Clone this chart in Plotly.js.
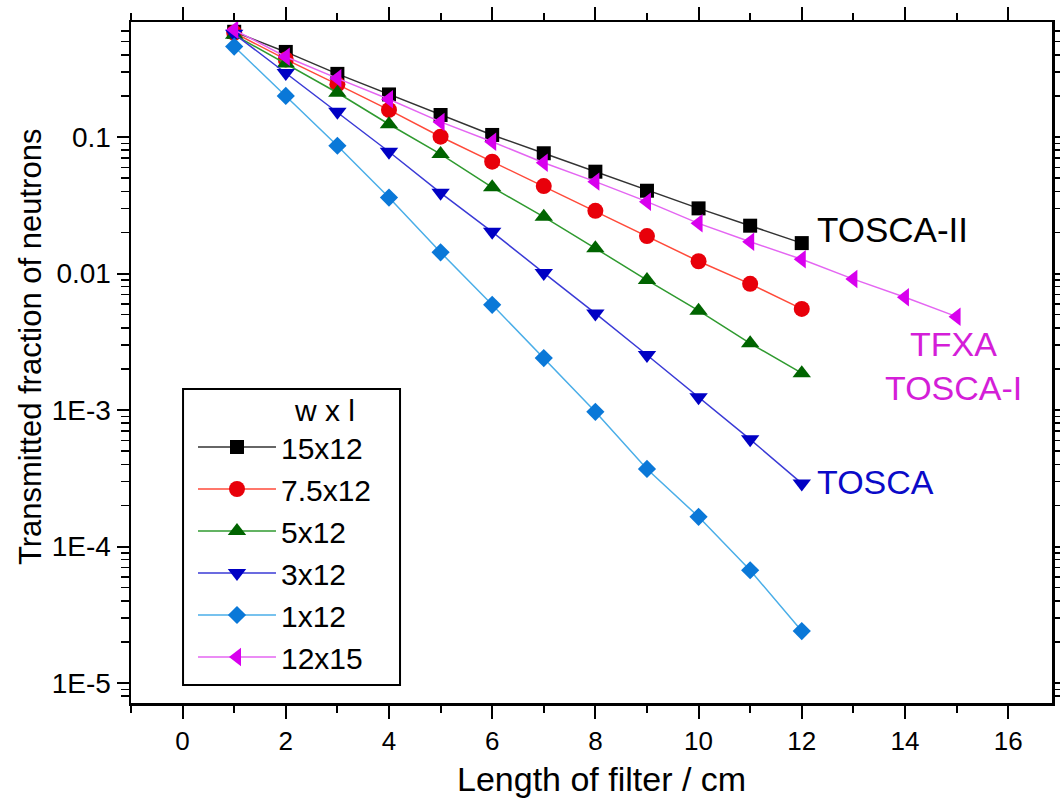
<!DOCTYPE html>
<html>
<head>
<meta charset="utf-8">
<script src="https://cdn.plot.ly/plotly-3.0.1.min.js"></script>
<style>
  html, body { margin: 0; padding: 0; background: #ffffff; }
  #chart { width: 1060px; height: 805px; }
</style>
</head>
<body>
<div id="chart"></div>
<script>
// Filter length (cm)
const length12 = [1, 2, 3, 4, 5, 6, 7, 8, 9, 10, 11, 12];
const length15 = [1, 2, 3, 4, 5, 6, 7, 8, 9, 10, 11, 12, 13, 14, 15];

// Transmitted fraction of neutrons for each filter cross-section (w x l)
const w15x12 = [0.59, 0.42, 0.29, 0.205, 0.145, 0.1035, 0.076, 0.0557, 0.0404, 0.030, 0.0224, 0.0167];
const w7p5x12 = [0.58, 0.37, 0.243, 0.158, 0.1005, 0.066, 0.0437, 0.0288, 0.0188, 0.0123, 0.0084, 0.0055];
const w5x12 = [0.56, 0.345, 0.211, 0.124, 0.075, 0.0428, 0.026, 0.0153, 0.00895, 0.00534, 0.00308, 0.00186];
const w3x12 = [0.57, 0.294, 0.153, 0.078, 0.039, 0.0202, 0.0101, 0.0051, 0.00253, 0.00124, 0.00061, 0.00029];
const w1x12 = [0.46, 0.2, 0.0863, 0.036, 0.0143, 0.0059, 0.0024, 0.00097, 0.00037, 0.000165, 0.000067, 0.000024];
const w12x15 = [0.61, 0.387, 0.269, 0.189, 0.129, 0.0924, 0.0648, 0.0471, 0.0336, 0.0233, 0.0171, 0.0127, 0.0091, 0.0067, 0.00483];

// Series names shown in the legend
const seriesNames = ['15x12', '7.5x12', '5x12', '3x12', '1x12', '12x15'];

// y-axis decade ticks and their labels
const yTickVals = [1e-5, 1e-4, 1e-3, 0.01, 0.1];
const yTickText = ['1E-5', '1E-4', '1E-3', '0.01', '0.1'];

// Instrument labels placed next to the curves
const instLabels = ['TOSCA-II', 'TFXA', 'TOSCA-I', 'TOSCA'];

// Axis titles
const xTitle = 'Length of filter / cm';
const yTitle = 'Transmitted fraction of neutrons';

// minor ticks 2..9 in every decade
const yMinor = [];
for (let e = -6; e <= 0; e++) {
  for (let m = 2; m <= 9; m++) yMinor.push(m * Math.pow(10, e));
}

const FONT = 'Liberation Sans, Arial, Helvetica, sans-serif';

function series(name, x, y, symbol, size, markerColor, lineColor) {
  return {
    type: 'scatter',
    mode: 'lines+markers',
    name: name,
    x: x,
    y: y,
    line: { color: lineColor, width: 1.5 },
    marker: { symbol: symbol, size: size, color: markerColor, line: { width: 0 } },
    cliponaxis: false
  };
}

const traces = [
  series(seriesNames[0], length12, w15x12, 'square', 14, '#000000', '#333333'),
  series(seriesNames[1], length12, w7p5x12, 'circle', 16, '#e8000a', '#ff4a3a'),
  series(seriesNames[2], length12, w5x12, 'triangle-up', 16, '#006400', '#2f9a2f'),
  series(seriesNames[3], length12, w3x12, 'triangle-down', 16, '#0000c4', '#3a3ad6'),
  series(seriesNames[4], length12, w1x12, 'diamond', 14, '#0a78d8', '#4aaee8'),
  series(seriesNames[5], length15, w12x15, 'triangle-left', 16, '#d800ee', '#e466f2')
];

const annFont = (c, s) => ({ family: FONT, size: s, color: c });
const NB = '\u00a0';

const layout = {
  width: 1060,
  height: 805,
  margin: { l: 131, r: 8, t: 22, b: 102 },
  paper_bgcolor: '#ffffff',
  plot_bgcolor: '#ffffff',
  font: { family: FONT, color: '#000000' },
  showlegend: true,
  legend: {
    x: 0.0673,
    y: 0.4714,
    xanchor: 'left',
    yanchor: 'top',
    bgcolor: 'rgba(0,0,0,0)',
    borderwidth: 0,
    itemwidth: 78,
    font: { family: FONT, size: 30, color: '#000000' },
    title: { text: NB.repeat(12) + 'w x l', font: { family: FONT, size: 30 } }
  },
  shapes: [
    // frame around the legend
    { type: 'rect', xref: 'paper', yref: 'paper', x0: 0.0565, x1: 0.2921, y0: 0.0264, y1: 0.4611,
      line: { color: '#000000', width: 2 }, fillcolor: 'rgba(0,0,0,0)', layer: 'above' }
  ],
  xaxis: {
    range: [-1, 16.85],
    tick0: 0,
    dtick: 2,
    ticks: 'outside',
    ticklen: 13,
    tickwidth: 2,
    tickcolor: '#000000',
    showline: true,
    linewidth: 2.5,
    linecolor: '#000000',
    mirror: 'ticks',
    showgrid: false,
    zeroline: false,
    ticklabelstandoff: 0,
    tickfont: { family: FONT, size: 26, color: '#000000' },
    minor: { dtick: 1, ticks: 'outside', ticklen: 7, tickwidth: 2, tickcolor: '#000000', showgrid: false }
  },
  yaxis: {
    type: 'log',
    range: [-5.1465, -0.1575],
    tickmode: 'array',
    tickvals: yTickVals,
    ticktext: yTickText,
    ticks: 'outside',
    ticklen: 12,
    tickwidth: 2,
    tickcolor: '#000000',
    showline: true,
    linewidth: 2.5,
    linecolor: '#000000',
    mirror: 'ticks',
    showgrid: false,
    zeroline: false,
    tickfont: { family: FONT, size: 28, color: '#000000' },
    minor: { tickmode: 'array', tickvals: yMinor, ticks: 'outside', ticklen: 8, tickwidth: 1.5, tickcolor: '#000000', showgrid: false }
  },
  annotations: [
    { x: 0.5114, y: -0.111, xref: 'paper', yref: 'paper', text: xTitle, showarrow: false, xanchor: 'center', yanchor: 'middle', font: annFont('#000000', 34) },
    { x: -0.1097, y: 0.524, xref: 'paper', yref: 'paper', text: yTitle, textangle: -90, showarrow: false, xanchor: 'center', yanchor: 'middle', font: annFont('#000000', 31) },
    { x: 12.25, y: -1.68, xref: 'x', yref: 'y', text: instLabels[0], showarrow: false, xanchor: 'left', yanchor: 'middle', font: annFont('#000000', 35) },
    { x: 14.95, y: -2.52, xref: 'x', yref: 'y', text: instLabels[1], showarrow: false, xanchor: 'center', yanchor: 'middle', font: annFont('#d41ed8', 34) },
    { x: 14.95, y: -2.84, xref: 'x', yref: 'y', text: instLabels[2], showarrow: false, xanchor: 'center', yanchor: 'middle', font: annFont('#d41ed8', 34) },
    { x: 12.25, y: -3.53, xref: 'x', yref: 'y', text: instLabels[3], showarrow: false, xanchor: 'left', yanchor: 'middle', font: annFont('#0a0ac8', 34) }
  ]
};

Plotly.newPlot('chart', traces, layout, { displayModeBar: false, staticPlot: true });
</script>
</body>
</html>
